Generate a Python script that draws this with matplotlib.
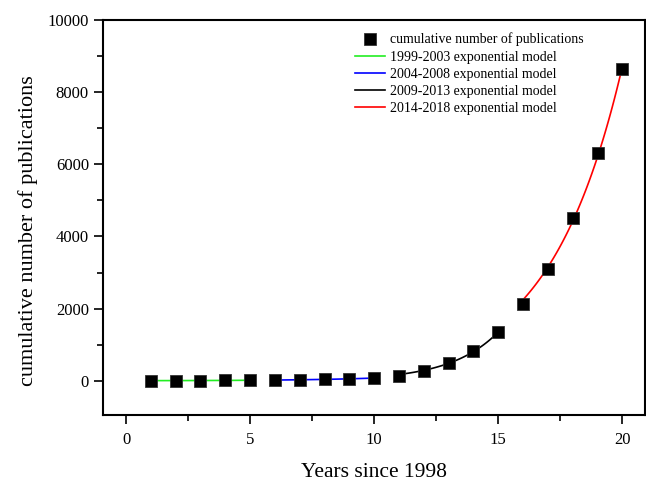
import numpy as np
import matplotlib
matplotlib.use("Agg")
import matplotlib.pyplot as plt
from matplotlib.ticker import MultipleLocator

years = [1, 2, 3, 4, 5, 6, 7, 8, 9, 10, 11, 12, 13, 14, 15, 16, 17, 18, 19, 20]
cumulative = [2, 4, 6, 9, 13, 19, 27, 38, 52, 75, 140, 277, 490, 830, 1340, 2124, 3110, 4515, 6300, 8640]

segments = [(1, 5), (6, 10), (11, 15), (16, 20)]
seg_labels = ["1999-2003 exponential model", "2004-2008 exponential model",
              "2009-2013 exponential model", "2014-2018 exponential model"]
seg_colors = ["#22ee22", "#0000ff", "#000000", "#ff0000"]

plt.rcParams['font.family'] = ['Liberation Serif', 'DejaVu Serif']

fig = plt.figure(figsize=(6.46, 4.83), dpi=100)
ax = fig.add_axes([0.1594, 0.1408, 0.8386, 0.8178])

x = np.array(years, dtype=float)
y = np.array(cumulative, dtype=float)

ax.plot(x, y, linestyle='none', marker='s', markersize=8, color='black',
        markeredgecolor='#333333', markeredgewidth=0.6,
        label='cumulative number of publications', zorder=3)

for (a, b), lab, col in zip(segments, seg_labels, seg_colors):
    m = (x >= a) & (x <= b)
    k, c = np.polyfit(x[m], np.log(y[m]), 1, w=y[m])
    xs = np.linspace(a, b, 100)
    ax.plot(xs, np.exp(c + k * xs), color=col, linewidth=1.2, label=lab, zorder=2)

ax.set_xlim(-0.93, 20.9)
ax.set_ylim(-950, 10000)
ax.xaxis.set_major_locator(MultipleLocator(5))
ax.xaxis.set_minor_locator(MultipleLocator(2.5))
ax.yaxis.set_major_locator(MultipleLocator(2000))
ax.yaxis.set_minor_locator(MultipleLocator(1000))
ax.tick_params(which='both', direction='out', top=False, right=False, labelsize=12, width=1.2)
ax.tick_params(which='major', length=6.5)
ax.tick_params(which='minor', length=4)
ax.tick_params(axis='x', pad=5.5)
ax.tick_params(axis='y', pad=3.6)
for s in ax.spines.values():
    s.set_linewidth(1.5)

ax.set_xlabel('Years since 1998', fontsize=15.5, labelpad=11)
ax.set_ylabel('cumulative number of publications', fontsize=16)
ax.yaxis.set_label_coords(-0.12, 0.466)

ax.legend(loc='upper left', bbox_to_anchor=(0.465, 0.968), frameon=False, fontsize=10,
          handlelength=2.15, handletextpad=0.36, labelspacing=0.3, borderaxespad=0,
          borderpad=0)

fig.savefig('out.png', dpi=100)
